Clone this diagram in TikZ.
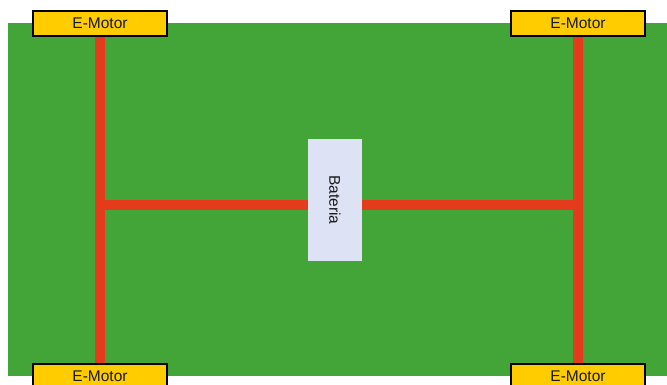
\documentclass[tikz,border=0pt]{standalone}
\usepackage{fontspec}
\setmainfont{Liberation Sans}
\usetikzlibrary{backgrounds}
\pgfdeclarelayer{board}
\pgfsetlayers{board,background,main}
\definecolor{boardgreen}{HTML}{43A538}
\definecolor{wire}{HTML}{E53B1D}
\definecolor{motorfill}{HTML}{FFCC00}
\definecolor{batfill}{HTML}{DDE3F4}
\definecolor{txt}{HTML}{1A1A1A}
\tikzset{
  motor/.style={draw=black, line width=2pt, fill=motorfill, minimum width=134pt, minimum height=25pt, inner sep=0pt, font=\fontsize{15.5}{17}\selectfont, text=txt},
  battery/.style={fill=batfill, minimum width=54pt, minimum height=122pt, inner sep=0pt, font=\fontsize{15.5}{17}\selectfont, text=txt},
  wireline/.style={wire, line width=9.5pt}
}
\begin{document}
\begin{tikzpicture}[x=1pt,y=-1pt]
\useasboundingbox (0,0) rectangle (667,385);
\clip (0,0) rectangle (667,385);
\begin{pgfonlayer}{board}
\fill[boardgreen] (8,23) rectangle (667,376);
\end{pgfonlayer}
\coordinate (hl) at (100,205);
\coordinate (hr) at (578,205);
\node[motor] (m1) at (100,23.5) {E-Motor};
\node[motor] (m2) at (578,23.5) {E-Motor};
\node[motor] (m3) at (100,376) {E-Motor};
\node[motor] (m4) at (578,376) {E-Motor};
\node[battery] (bat) at (335,200) {\rotatebox{-90}{Bateria}};
\begin{pgfonlayer}{background}
\draw[wireline] (m1.center) -- (m3.center);
\draw[wireline] (m2.center) -- (m4.center);
\draw[wireline] (hl) -- (hr);
\end{pgfonlayer}
\end{tikzpicture}
\end{document}
